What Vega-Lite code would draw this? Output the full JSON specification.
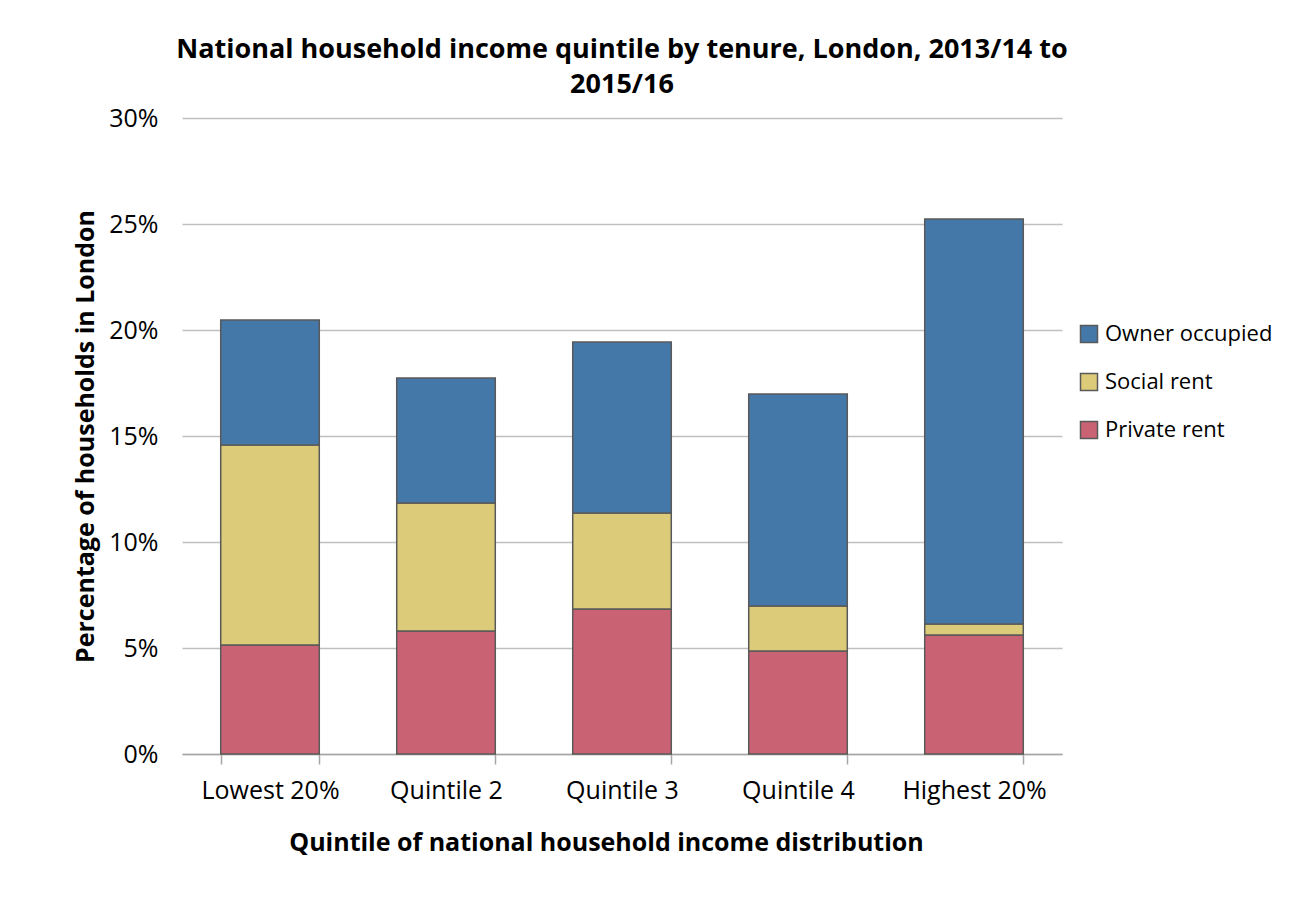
{
  "$schema": "https://vega.github.io/schema/vega-lite/v6.json",
  "autosize": "none",
  "width": 880,
  "height": 636,
  "padding": {"left": 182, "top": 118, "right": 234, "bottom": 156},
  "background": "white",
  "config": {
    "font": "Open Sans",
    "view": {"stroke": null}
  },
  "title": {
    "text": ["National household income quintile by tenure, London, 2013/14  to", "2015/16"],
    "fontSize": 27,
    "fontWeight": "bold",
    "color": "black",
    "anchor": "middle",
    "lineHeight": 35,
    "offset": 7
  },
  "data": {
    "values": [
      {"quintile": "Lowest 20%", "tenure": "Private rent", "rank": 1, "value": 5.14},
      {"quintile": "Lowest 20%", "tenure": "Social rent", "rank": 2, "value": 9.44},
      {"quintile": "Lowest 20%", "tenure": "Owner occupied", "rank": 3, "value": 5.89},
      {"quintile": "Quintile 2", "tenure": "Private rent", "rank": 1, "value": 5.80},
      {"quintile": "Quintile 2", "tenure": "Social rent", "rank": 2, "value": 6.04},
      {"quintile": "Quintile 2", "tenure": "Owner occupied", "rank": 3, "value": 5.90},
      {"quintile": "Quintile 3", "tenure": "Private rent", "rank": 1, "value": 6.84},
      {"quintile": "Quintile 3", "tenure": "Social rent", "rank": 2, "value": 4.53},
      {"quintile": "Quintile 3", "tenure": "Owner occupied", "rank": 3, "value": 8.06},
      {"quintile": "Quintile 4", "tenure": "Private rent", "rank": 1, "value": 4.86},
      {"quintile": "Quintile 4", "tenure": "Social rent", "rank": 2, "value": 2.12},
      {"quintile": "Quintile 4", "tenure": "Owner occupied", "rank": 3, "value": 10.0},
      {"quintile": "Highest 20%", "tenure": "Private rent", "rank": 1, "value": 5.61},
      {"quintile": "Highest 20%", "tenure": "Social rent", "rank": 2, "value": 0.52},
      {"quintile": "Highest 20%", "tenure": "Owner occupied", "rank": 3, "value": 19.11}
    ]
  },
  "mark": {"type": "bar", "stroke": "#595959", "strokeWidth": 1.5},
  "encoding": {
    "x": {
      "field": "quintile",
      "type": "nominal",
      "sort": ["Lowest 20%", "Quintile 2", "Quintile 3", "Quintile 4", "Highest 20%"],
      "scale": {"paddingInner": 0.44, "paddingOuter": 0.22},
      "axis": {
        "title": "Quintile of national household income distribution",
        "titleFontSize": 25,
        "titleFontWeight": "bold",
        "titleColor": "black",
        "titlePadding": 27,
        "titleX": 424,
        "labelAngle": 0,
        "labelFontSize": 25,
        "labelColor": "black",
        "labelPadding": 14,
        "domainColor": "#a6a6a6",
        "domainWidth": 1.5,
        "tickColor": "#a6a6a6",
        "tickWidth": 1.5,
        "tickSize": 10,
        "tickBand": "extent"
      }
    },
    "y": {
      "field": "value",
      "type": "quantitative",
      "aggregate": "sum",
      "stack": "zero",
      "scale": {"domain": [0, 30]},
      "axis": {
        "title": "Percentage of households in London",
        "titleFontSize": 25,
        "titleFontWeight": "bold",
        "titleColor": "black",
        "titlePadding": 10,
        "values": [0, 5, 10, 15, 20, 25, 30],
        "labelExpr": "datum.value + '%'",
        "labelFontSize": 25,
        "labelColor": "black",
        "labelPadding": 24,
        "domain": false,
        "ticks": false,
        "gridColor": "#c0c0c0",
        "gridWidth": 1.5
      }
    },
    "order": {"field": "rank", "type": "quantitative", "sort": "ascending"},
    "color": {
      "field": "tenure",
      "type": "nominal",
      "scale": {
        "domain": ["Owner occupied", "Social rent", "Private rent"],
        "range": ["#4478A8", "#DCCB78", "#C96373"]
      },
      "legend": {
        "title": null,
        "orient": "none",
        "legendX": 896,
        "legendY": 205,
        "labelFontSize": 22,
        "labelColor": "black",
        "labelOffset": 5,
        "labelLimit": 400,
        "symbolType": "square",
        "symbolSize": 289,
        "symbolStrokeColor": "#595959",
        "symbolStrokeWidth": 1.5,
        "rowPadding": 24,
        "padding": 0
      }
    }
  }
}
